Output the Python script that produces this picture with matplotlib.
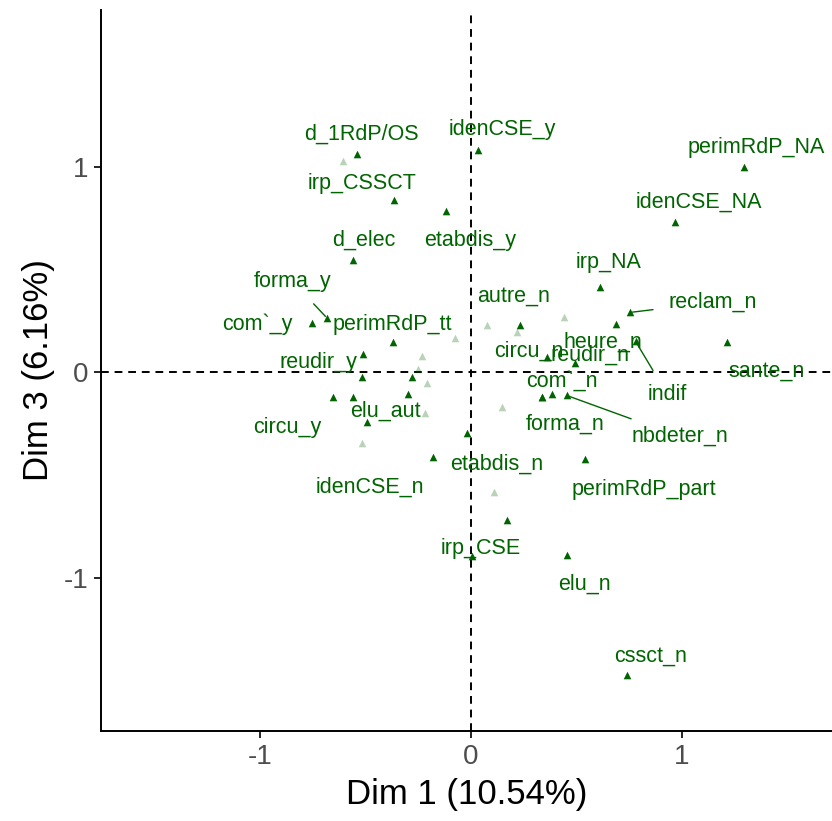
import matplotlib
matplotlib.use("Agg")
import matplotlib.pyplot as plt

plt.rcParams['font.family'] = ['Liberation Sans', 'DejaVu Sans']

# Labelled categories: name, point (Dim1, Dim3), label position (Dim1, Dim3), draw segment
names = ["d_1RdP/OS", "idenCSE_y", "perimRdP_NA", "irp_CSSCT", "idenCSE_NA",
         "etabdis_y", "d_elec", "irp_NA", "forma_y", "reclam_n", "autre_n",
         "com`_y", "perimRdP_tt", "circu_n", "heure_n", "reudir_n", "indif",
         "sante_n", "reudir_y", "com`_n", "nbdeter_n", "elu_aut", "forma_n",
         "circu_y", "etabdis_n", "perimRdP_part", "idenCSE_n", "irp_CSE",
         "elu_n", "cssct_n"]
dim1 = [-0.539, 0.033, 1.296, -0.364, 0.965,
        -0.118, -0.558, 0.610, -0.681, 0.752, 0.232,
        -0.752, -0.369, 0.359, 0.686, 0.492, 0.780,
        1.215, -0.515, 0.383, 0.454, -0.492, 0.336,
        -0.652, -0.019, 0.539, -0.180, 0.005,
        0.454, 0.738]
dim3 = [1.061, 1.085, 1.002, 0.837, 0.730,
        0.788, 0.545, 0.418, 0.263, 0.292, 0.229,
        0.243, 0.146, 0.073, 0.238, 0.044, 0.151,
        0.146, -0.024, -0.107, -0.112, -0.243, -0.117,
        -0.117, -0.297, -0.423, -0.409, -0.895,
        -0.890, -1.474]
lab_x = [-0.520, 0.147, 1.352, -0.515, 1.078,
         -0.005, -0.506, 0.652, -0.846, 1.144, 0.203,
         -1.012, -0.374, 0.275, 0.624, 0.565, 0.931,
         1.400, -0.723, 0.430, 0.988, -0.407, 0.444,
         -0.870, 0.123, 0.818, -0.478, 0.047,
         0.539, 0.851]
lab_y = [1.158, 1.182, 1.095, 0.920, 0.827,
         0.642, 0.642, 0.535, 0.443, 0.341, 0.370,
         0.234, 0.234, 0.102, 0.145, 0.085, -0.107,
         0.005, 0.049, -0.044, -0.311, -0.190, -0.253,
         -0.268, -0.448, -0.569, -0.560, -0.856,
         -1.032, -1.382]
segment = ["forma_y", "reclam_n", "indif", "nbdeter_n"]

# Unlabelled dark categories
extra_dark_x = [-0.279, -0.510, -0.298, -0.558, 0.170, 0.336]
extra_dark_y = [-0.024, 0.088, -0.107, -0.117, -0.720, -0.117]

# Low-contribution categories (faded)
light_x = [-0.605, 0.440, 0.076, 0.217, -0.076, -0.232, -0.250, -0.208,
           -0.217, -0.515, 0.147, 0.109]
light_y = [1.030, 0.272, 0.229, 0.195, 0.170, 0.078, 0.015, -0.049,
           -0.195, -0.341, -0.170, -0.584]

green = "#006400"

fig = plt.figure(figsize=(8.32, 8.21), dpi=100)
ax = fig.add_axes([0.1214, 0.1096, 0.8786, 0.8782])

ax.axhline(0, color="black", linestyle=(0, (4, 3)), linewidth=1.4, zorder=1)
ax.axvline(0, color="black", linestyle=(0, (4, 3)), linewidth=1.4, zorder=1)

ax.scatter(light_x, light_y, marker="^", s=30, color=green, alpha=0.28,
           linewidths=0, zorder=2)
ax.scatter(extra_dark_x, extra_dark_y, marker="^", s=30, color=green,
           linewidths=0, zorder=3)
ax.scatter(dim1, dim3, marker="^", s=30, color=green, linewidths=0, zorder=3)

for n, px, py, lx, ly in zip(names, dim1, dim3, lab_x, lab_y):
    if n in segment:
        ax.annotate(n, xy=(px, py), xytext=(lx, ly), ha="center", va="center",
                    fontsize=15.5, color=green, zorder=4,
                    arrowprops=dict(arrowstyle="-", color=green, lw=1.0,
                                    shrinkA=9, shrinkB=2))
    else:
        ax.text(lx, ly, n, ha="center", va="center", fontsize=15.5,
                color=green, zorder=4)

ax.set_xlim(-1.754, 1.711)
ax.set_ylim(-1.745, 1.764)
ax.set_xticks([-1, 0, 1])
ax.set_yticks([-1, 0, 1])
ax.set_xticklabels(["-1", "0", "1"])
ax.set_yticklabels(["-1", "0", "1"])
ax.tick_params(axis="both", labelsize=20, colors="#4D4D4D", length=5,
               width=1.2, pad=4)
ax.tick_params(axis="both", color="black")
for s in ["top", "right"]:
    ax.spines[s].set_visible(False)
for s in ["left", "bottom"]:
    ax.spines[s].set_linewidth(1.4)
ax.set_xlabel("Dim 1 (10.54%)", fontsize=25, color="black", labelpad=6)
ax.set_ylabel("Dim 3 (6.16%)", fontsize=25, color="black", labelpad=6)

fig.savefig("out.png", dpi=100)
